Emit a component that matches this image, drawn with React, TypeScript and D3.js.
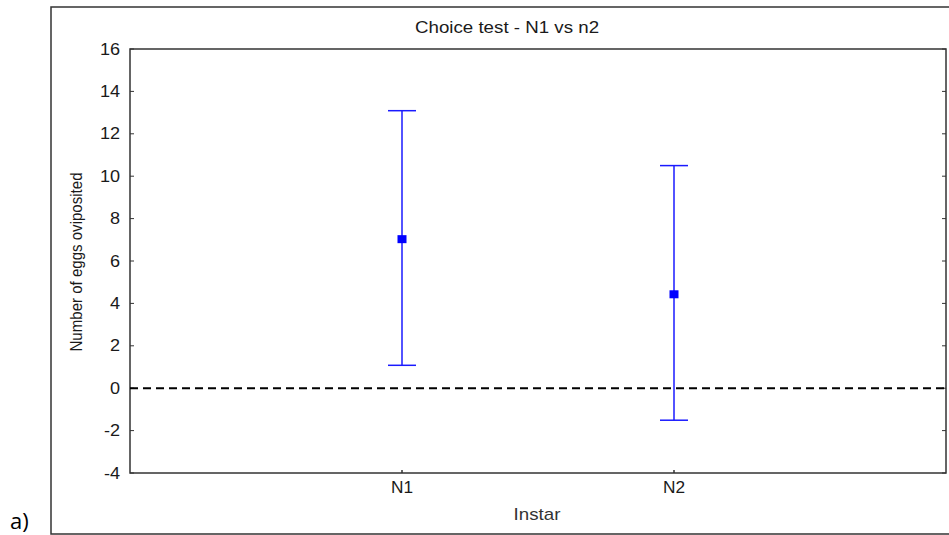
import React from "react";
import * as d3 from "d3";

const categories = ["N1", "N2"];
const means = [7.03, 4.43];
const upper = [13.09, 10.5];
const lower = [1.08, -1.51];
const yTicks = [-4, -2, 0, 2, 4, 6, 8, 10, 12, 14, 16];

const W = 949;
const H = 535;
const plot = { left: 130, top: 49, right: 946, bottom: 473 };

function T(props: { x: number; y: number; anchor?: string; sx?: number; size?: number; fill?: string; children: React.ReactNode }) {
  const { x, y, anchor = "start", sx = 1.13, size = 16, fill = "#1a1a1a", children } = props;
  return (
    <text transform={`translate(${x},${y}) scale(${sx},1)`} fontSize={size} textAnchor={anchor} fill={fill}>
      {children}
    </text>
  );
}

export default function App() {
  const x = d3.scaleLinear().domain([0, 3]).range([plot.left, plot.right]);
  const y = d3.scaleLinear().domain([-4, 16]).range([plot.bottom, plot.top]);
  const blue = "#1a1aff";
  const font = "'Liberation Sans', Arial, sans-serif";
  return (
    <svg width={W} height={H} style={{ position: "absolute", left: 0, top: 0, background: "#fff" }} fontFamily={font}>
      {/* outer frame */}
      <path d={`M ${W + 5} 7 H 51 V 534 H ${W + 5}`} fill="none" stroke="#333" strokeWidth={1.5} />
      <text x={10} y={529} fontSize={22} fontFamily="'Open Sans', Lato, sans-serif" fill="#000">a)</text>
      {/* title */}
      <T x={507} y={33} anchor="middle" sx={1.17}>Choice test - N1 vs n2</T>
      {/* plot rect */}
      <rect x={plot.left} y={plot.top} width={plot.right - plot.left} height={plot.bottom - plot.top} fill="none" stroke="#333" strokeWidth={1.5} />
      {/* y ticks */}
      {yTicks.map((t) => (
        <g key={t}>
          <line x1={plot.left} x2={plot.left + 4} y1={y(t)} y2={y(t)} stroke="#333" strokeWidth={1} />
          <line x1={plot.right - 4} x2={plot.right} y1={y(t)} y2={y(t)} stroke="#333" strokeWidth={1} />
          <T x={120} y={y(t) + 5.5} anchor="end">{t}</T>
        </g>
      ))}
      {/* x tick labels */}
      {categories.map((c, i) => (
        <g key={c}>
          <line x1={x(i + 1)} x2={x(i + 1)} y1={plot.bottom} y2={plot.bottom - 3} stroke="#333" strokeWidth={1.5} />
          <T x={x(i + 1)} y={493} anchor="middle" sx={1.08}>{c}</T>
        </g>
      ))}
      <T x={537} y={520} anchor="middle" sx={1.17} fill="#333">Instar</T>
      <text
        transform={`translate(82, 262) rotate(-90)`}
        fontSize={16.5}
        textAnchor="middle"
        fill="#1a1a1a"
        textLength={179}
        lengthAdjust="spacingAndGlyphs"
      >
        Number of eggs oviposited
      </text>
      {/* zero reference line */}
      <line x1={plot.left} x2={plot.right} y1={y(0)} y2={y(0)} stroke="#000" strokeWidth={2} strokeDasharray="8,5" />
      {/* error bars */}
      {categories.map((c, i) => {
        const cx = x(i + 1);
        return (
          <g key={c}>
            <line x1={cx} x2={cx} y1={y(upper[i])} y2={y(lower[i])} stroke={blue} strokeWidth={1.5} />
            <line x1={cx - 14} x2={cx + 14} y1={y(upper[i])} y2={y(upper[i])} stroke={blue} strokeWidth={1.5} />
            <line x1={cx - 14} x2={cx + 14} y1={y(lower[i])} y2={y(lower[i])} stroke={blue} strokeWidth={1.5} />
            <rect x={cx - 4.5} y={y(means[i]) - 4} width={9} height={8} fill="#0000ff" />
          </g>
        );
      })}
    </svg>
  );
}
